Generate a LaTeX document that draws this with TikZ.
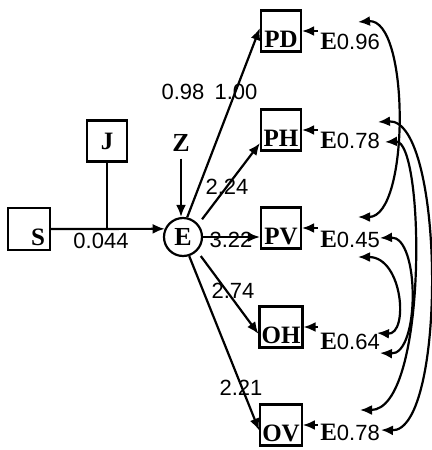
\documentclass[tikz,border=0pt]{standalone}
\usepackage{fontspec}
\setmainfont{Liberation Sans}
\newfontfamily\lttr{Liberation Serif}
\usetikzlibrary{arrows.meta}

\begin{document}
\begin{tikzpicture}[x=0.5pt,y=-0.5pt,
  every node/.style={font=\fontsize{11}{13}\selectfont},
  box/.style={draw,line width=1.1pt,minimum width=20pt,minimum height=20.5pt,
    inner xsep=1pt,inner ysep=1.5pt,font=\lttr\bfseries\fontsize{12.5}{14}\selectfont},
  obs/.style={box,text height=16pt,text depth=0pt},
  lat/.style={draw,circle,line width=1.1pt,minimum size=19pt,inner sep=0pt,
    font=\lttr\bfseries\fontsize{13}{15}\selectfont},
  ltr/.style={font=\lttr\bfseries\fontsize{13}{15}\selectfont},
  num/.style={inner sep=1pt},
  arr/.style={-{Latex[length=6pt,width=5pt]},line width=1.1pt},
  cov/.style={{Latex[length=6pt,width=5pt]}-{Latex[length=6pt,width=5pt]},line width=1.1pt}]
  \useasboundingbox (0,0) rectangle (432,450);

  % predictors
  \node[obs,minimum width=21pt,minimum height=21pt,text width=16pt,align=right] (S) at (29,229) {S};
  \node[box] (J) at (107,141) {J};
  \node[ltr] (Z) at (181,143) {Z};
  \node[lat] (E) at (183,237) {E};
  \coordinate (jS) at (J |- S);

  \draw[arr] (S.east) -- (E.156);
  \draw[line width=1.1pt] (J) -- (jS);
  \draw[arr] (Z.south) -- (Z.south |- E.north);

  % indicators
  \foreach \n/\y in {PD/31,PH/130,PV/228,OH/327,OV/425}
    \node[obs] (\n) at (281,\y) {\n};

  \draw[arr] (E.78) -- (PD.172);
  \draw[arr,shorten <=3pt] (E.40) -- (PH.212);
  \draw[arr] (E.east) -- (E.east -| PV.west);
  \draw[arr,shorten <=3pt] (E.-45) -- (OH.197);
  \draw[arr] (E.-72) -- (OV.194);

  % coefficients
  \foreach \x/\y/\t [count=\i] in {101/241/0.044,183/92/0.98,236/92/1.00,
      227/187/2.24,231/240/3.22,233/291/2.74,241/388/2.21}
    \node[num] (w\i) at (\x,\y) {\t};

  % error terms
  \foreach \n/\y/\v in {PD/41/0.96,PH/140/0.78,PV/239/0.45,OH/341/0.64,OV/432/0.78} {
    \node[num] (e\n) at (350,\y) {{\lttr\bfseries\fontsize{12.5}{13}\selectfont E}\v};
    \draw[arr] (\n.east -| e\n.west) -- (\n.east);
  }

  % correlated errors
  \coordinate (c1a) at (358,22);  \coordinate (c1b) at (358,217);
  \coordinate (c2a) at (358,257); \coordinate (c2b) at (377,333);
  \coordinate (c3a) at (380,238); \coordinate (c3b) at (380,353);
  \coordinate (c4a) at (378,122); \coordinate (c4b) at (381,430);
  \coordinate (c5a) at (385,142); \coordinate (c5b) at (360,410);
  \draw[cov] (c1a) .. controls +(52,-4) and +(52,0) .. (c1b);
  \draw[cov] (c2a) .. controls +(45,0) and +(32,2) .. (c2b);
  \draw[cov] (c3a) .. controls +(40,-2) and +(40,2) .. (c3b);
  \draw[cov] (c4a) .. controls +(67,-4) and +(66,2) .. (c4b);
  \draw[cov] (c5a) .. controls +(40,-2) and +(68,0) .. (c5b);
\end{tikzpicture}
\end{document}
